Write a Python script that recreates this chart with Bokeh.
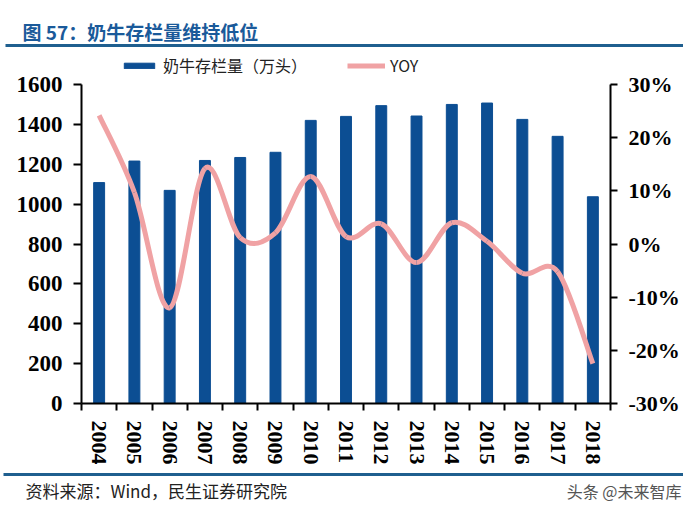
from bokeh.embed import file_html
from bokeh.models import (BoxAnnotation, CustomJSTickFormatter, FixedTicker,
                          Label, Legend, LegendItem, LinearAxis,
                          PrintfTickFormatter, Range1d)
from bokeh.plotting import figure
from bokeh.resources import INLINE

years = ["2004", "2005", "2006", "2007", "2008", "2009", "2010", "2011",
         "2012", "2013", "2014", "2015", "2016", "2017", "2018"]
herd = [1108, 1216, 1069, 1219, 1234, 1260, 1420, 1440,
        1494, 1442, 1500, 1507, 1425, 1340, 1037]
yoy = [24.2, 9.7, -12.0, 14.2, 1.2, 2.1, 12.7, 1.4,
       3.8, -3.5, 4.0, 0.5, -5.5, -5.2, -22.5]

left_ticks = [0, 200, 400, 600, 800, 1000, 1200, 1400, 1600]
right_ticks = [-30, -20, -10, 0, 10, 20, 30]

title = "图 57：奶牛存栏量维持低位"
source = "资料来源：Wind，民生证券研究院"
mark = "头条 @未来智库"

BAR_BLUE = "#0C4E93"
LINE_PINK = "#F0A2A4"
RULE_BLUE = "#1F5F8F"
TITLE_BLUE = "#1A5A9A"
NUM_FONT = "Liberation Serif"
CJK_FONT = "Noto Sans CJK SC"

W, H = 683, 504
# plot box inside the canvas, in pixels from top-left
BOX_L, BOX_R, BOX_T, BOX_B = 81, 610, 84, 403


def span(lo, hi, a, b, size):
    # data range so that lo..hi lands on pixels a..b of a canvas of `size`
    k = (hi - lo) / (b - a)
    return lo - a * k, hi + (size - b) * k


n = len(years)
xs, xe = span(0, n, BOX_L, BOX_R, W)
ys, ye = span(0, 1600, H - BOX_B, H - BOX_T, H)
rs, re = span(-30, 30, H - BOX_B, H - BOX_T, H)

# the frame fills the canvas; axes sit at fixed spots inside it
p = figure(width=W, height=H, output_backend="svg", toolbar_location=None,
           x_range=Range1d(xs, xe), y_range=Range1d(ys, ye), min_border=0)
p.extra_y_ranges = {"yoy": Range1d(rs, re)}
p.outline_line_color = None
p.grid.visible = False
p.xaxis.visible = False
p.yaxis.visible = False

x = [i + 0.5 for i in range(n)]
bars = p.vbar(x=x, top=herd, width=0.31, color=BAR_BLUE)

# smoothed YOY curve: Catmull-Rom segments as cubic beziers
pts = list(zip(x, yoy))
x0, y0, x1, y1, cx0, cy0, cx1, cy1 = ([] for _ in range(8))
for i in range(len(pts) - 1):
    pa = pts[max(i - 1, 0)]
    pb, pc = pts[i], pts[i + 1]
    pd = pts[min(i + 2, len(pts) - 1)]
    x0.append(pb[0]); y0.append(pb[1])
    x1.append(pc[0]); y1.append(pc[1])
    cx0.append(pb[0] + (pc[0] - pa[0]) / 6); cy0.append(pb[1] + (pc[1] - pa[1]) / 6)
    cx1.append(pc[0] - (pd[0] - pb[0]) / 6); cy1.append(pc[1] - (pd[1] - pb[1]) / 6)
curve = p.bezier(x0=x0, y0=y0, x1=x1, y1=y1, cx0=cx0, cy0=cy0, cx1=cx1, cy1=cy1,
                 line_color=LINE_PINK, line_width=5, y_range_name="yoy")


def style_axis(ax, size, tick_out, standoff):
    ax.axis_line_color = "black"
    ax.axis_line_width = 2
    ax.major_tick_line_color = "black"
    ax.major_tick_line_width = 2
    ax.major_tick_in = 0
    ax.major_tick_out = tick_out
    ax.minor_tick_line_color = None
    ax.major_label_text_font = NUM_FONT
    ax.major_label_text_font_style = "bold"
    ax.major_label_text_font_size = size
    ax.major_label_text_color = "black"
    ax.major_label_standoff = standoff


yl = LinearAxis(ticker=FixedTicker(ticks=left_ticks), fixed_location=0,
                bounds=(0, 1600))
style_axis(yl, "23px", 8, 11)
p.add_layout(yl, "left")

yr = LinearAxis(y_range_name="yoy", ticker=FixedTicker(ticks=right_ticks),
                formatter=PrintfTickFormatter(format="%d%%"),
                fixed_location=n, bounds=(-30, 30))
style_axis(yr, "22px", 7, 11)
p.add_layout(yr, "right")

xa = LinearAxis(ticker=FixedTicker(ticks=x, minor_ticks=list(range(n + 1))),
                formatter=CustomJSTickFormatter(args=dict(years=years),
                                                code="return years[Math.floor(tick)]"),
                fixed_location=0, bounds=(0, n))
style_axis(xa, "22px", 0, 10)
xa.major_tick_line_color = None
xa.minor_tick_line_color = "black"
xa.minor_tick_line_width = 2
xa.minor_tick_in = 0
xa.minor_tick_out = 7
xa.major_label_orientation = "vertical"
p.add_layout(xa, "below")

legend = Legend(items=[LegendItem(label="奶牛存栏量（万头）", renderers=[bars]),
                       LegendItem(label="YOY", renderers=[curve])],
                orientation="horizontal", location=(120, H - 77),
                padding=0, margin=0, spacing=40, label_standoff=5,
                glyph_width=38, glyph_height=7, label_height=20,
                border_line_color=None, background_fill_alpha=0,
                label_text_font=CJK_FONT, label_text_font_size="16px",
                label_text_color="#222222")
p.add_layout(legend, "center")


def rule(px_left, px_right, py):
    p.add_layout(BoxAnnotation(left=px_left, right=px_right,
                               top=H - py + 1.5, bottom=H - py - 1.5,
                               left_units="screen", right_units="screen",
                               top_units="screen", bottom_units="screen",
                               fill_color=RULE_BLUE, fill_alpha=1,
                               line_color=None))


def note(px, py, text, size, color, bold=False, align="left"):
    p.add_layout(Label(x=px, y=H - py, x_units="screen", y_units="screen",
                       text=text, text_font=CJK_FONT, text_font_size=size,
                       text_font_style="bold" if bold else "normal",
                       text_color=color, text_align=align,
                       text_baseline="middle"))


note(22, 31, title, "19px", TITLE_BLUE, bold=True)
rule(5, W, 45)
rule(3, W, 474)
note(25, 490, source, "17px", "#222222")
note(W - 2, 490, mark, "16px", "#555555", align="right")

open("out.html", "w").write(file_html(p, INLINE))
